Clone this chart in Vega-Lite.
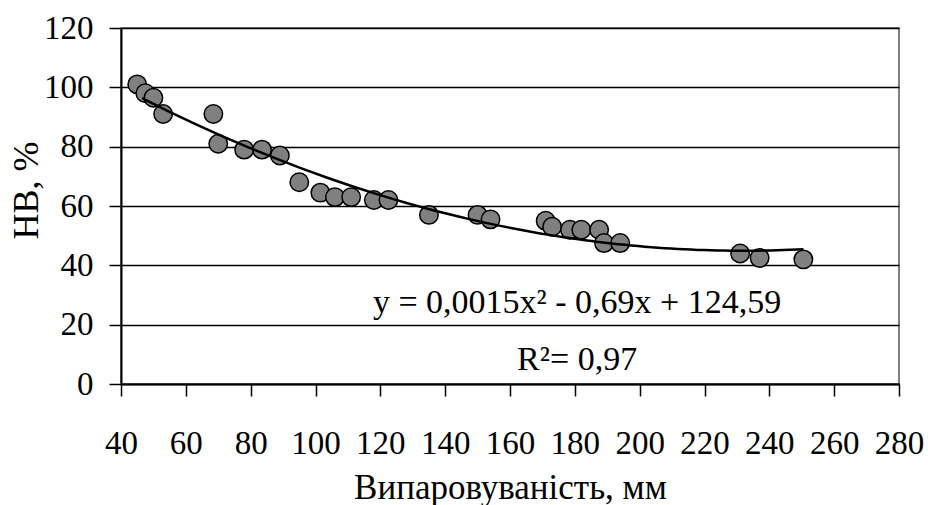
{
  "$schema": "https://vega.github.io/schema/vega-lite/v6.json",
  "autosize": {"type": "none"},
  "padding": {"left": 121, "top": 28, "right": 29, "bottom": 121},
  "width": 778,
  "height": 356,
  "background": "white",
  "config": {
    "view": {"stroke": "#555555", "strokeWidth": 1.5},
    "font": "Liberation Serif"
  },
  "datasets": {
    "points": [
      {"evap": 45, "hb": 101},
      {"evap": 47.5, "hb": 98},
      {"evap": 50, "hb": 96.5},
      {"evap": 53, "hb": 91},
      {"evap": 68.5, "hb": 91},
      {"evap": 70, "hb": 81},
      {"evap": 78, "hb": 79},
      {"evap": 83.5, "hb": 79},
      {"evap": 89, "hb": 77},
      {"evap": 95, "hb": 68},
      {"evap": 101.5, "hb": 64.5},
      {"evap": 106, "hb": 63},
      {"evap": 111, "hb": 63},
      {"evap": 118, "hb": 62},
      {"evap": 122.5, "hb": 62},
      {"evap": 135, "hb": 57},
      {"evap": 150, "hb": 57},
      {"evap": 154, "hb": 55.5},
      {"evap": 171, "hb": 55},
      {"evap": 173, "hb": 53},
      {"evap": 178.5, "hb": 52},
      {"evap": 182, "hb": 52},
      {"evap": 187.5, "hb": 52},
      {"evap": 189, "hb": 47.5},
      {"evap": 194, "hb": 47.5},
      {"evap": 231, "hb": 44},
      {"evap": 237, "hb": 42.5},
      {"evap": 250.5, "hb": 42}
    ],
    "notes": [
      {"label": "y = 0,0015x² - 0,69x + 124,59", "evap": 180.7, "hb": 23.9},
      {"label": "R²= 0,97", "evap": 180.7, "hb": 4.7}
    ]
  },
  "encoding": {
    "x": {
      "field": "evap", "type": "quantitative",
      "scale": {"domain": [40, 280], "nice": false, "zero": false},
      "axis": {
        "title": "Випаровуваність, мм",
        "values": [40, 60, 80, 100, 120, 140, 160, 180, 200, 220, 240, 260, 280],
        "grid": false,
        "domainColor": "black", "domainWidth": 2,
        "tickColor": "black", "tickWidth": 1.5, "tickSize": 12,
        "labelFont": "Liberation Serif", "labelFontSize": 33, "labelColor": "black",
        "labelPadding": 31, "labelFlush": false, "labelOverlap": false,
        "titleFont": "Liberation Serif", "titleFontSize": 35, "titleFontWeight": "normal",
        "titleColor": "black", "titleBaseline": "alphabetic", "titleY": 114
      }
    },
    "y": {
      "field": "hb", "type": "quantitative",
      "scale": {"domain": [0, 120], "nice": false},
      "axis": {
        "title": "НВ, %",
        "values": [0, 20, 40, 60, 80, 100, 120],
        "grid": true, "gridColor": "black", "gridWidth": 1.5, "gridOpacity": 1,
        "domainColor": "black", "domainWidth": 2,
        "tickColor": "black", "tickWidth": 1.5, "tickSize": 12,
        "labelFont": "Liberation Serif", "labelFontSize": 33, "labelColor": "black",
        "labelPadding": 16, "labelFlush": false, "labelOverlap": false,
        "titleFont": "Liberation Serif", "titleFontSize": 36, "titleFontWeight": "normal",
        "titleColor": "black", "titleBaseline": "alphabetic", "titleAlign": "center",
        "titleAngle": -90, "titleX": -84, "titleY": 162
      }
    }
  },
  "layer": [
    {
      "data": {"name": "points"},
      "mark": {"type": "point", "filled": true, "shape": "circle", "size": 340,
               "fill": "#808080", "stroke": "black", "strokeWidth": 1.5, "opacity": 1, "fillOpacity": 1}
    },
    {
      "data": {"name": "points"},
      "transform": [
        {"regression": "hb", "on": "evap", "method": "poly", "order": 2, "extent": [46.5, 250.5]}
      ],
      "mark": {"type": "line", "color": "black", "strokeWidth": 2.5}
    },
    {
      "data": {"name": "notes"},
      "mark": {"type": "text", "font": "Liberation Serif",
               "fontSize": 34, "color": "black", "align": "center", "baseline": "alphabetic"},
      "encoding": {"text": {"field": "label", "type": "nominal"}}
    }
  ]
}
